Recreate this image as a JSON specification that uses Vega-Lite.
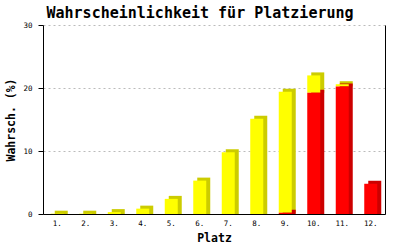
{
  "$schema": "https://vega.github.io/schema/vega-lite/v6.json",
  "autosize": {"type": "none"},
  "width": 342,
  "height": 189,
  "padding": {"left": 43, "top": 25, "right": 15, "bottom": 36},
  "background": "white",
  "title": {
    "text": "Wahrscheinlichkeit für Platzierung",
    "font": "DejaVu Sans Mono",
    "fontSize": 15,
    "fontWeight": "bold",
    "color": "black",
    "anchor": "middle",
    "frame": "group",
    "dx": -14,
    "offset": 0
  },
  "config": {
    "view": {"stroke": null},
    "axis": {
      "labelFont": "DejaVu Sans Mono",
      "labelFontSize": 7.5,
      "labelColor": "black",
      "titleFont": "DejaVu Sans Mono",
      "titleFontSize": 11.5,
      "titleFontWeight": "bold",
      "titleColor": "black",
      "domainColor": "black",
      "domainWidth": 1,
      "tickColor": "black"
    }
  },
  "data": {
    "values": [
      {"platz": "1.", "typ": "gelb", "wert": 0.05},
      {"platz": "2.", "typ": "gelb", "wert": 0.05},
      {"platz": "3.", "typ": "gelb", "wert": 0.3},
      {"platz": "4.", "typ": "gelb", "wert": 0.85},
      {"platz": "5.", "typ": "gelb", "wert": 2.4},
      {"platz": "6.", "typ": "gelb", "wert": 5.3},
      {"platz": "7.", "typ": "gelb", "wert": 9.8},
      {"platz": "8.", "typ": "gelb", "wert": 15.1},
      {"platz": "9.", "typ": "gelb", "wert": 19.2},
      {"platz": "9.", "typ": "rot", "wert": 0.2},
      {"platz": "10.", "typ": "gelb", "wert": 2.75},
      {"platz": "10.", "typ": "rot", "wert": 19.25},
      {"platz": "11.", "typ": "gelb", "wert": 0.35},
      {"platz": "11.", "typ": "rot", "wert": 20.25},
      {"platz": "12.", "typ": "rot", "wert": 4.8}
    ]
  },
  "transform": [
    {"stack": "wert", "groupby": ["platz"], "sort": [{"field": "typ", "order": "descending"}], "as": ["y0", "y1"]}
  ],
  "encoding": {
    "x": {
      "field": "platz",
      "type": "nominal",
      "scale": {"domain": ["1.", "2.", "3.", "4.", "5.", "6.", "7.", "8.", "9.", "10.", "11.", "12."], "paddingInner": 0, "paddingOuter": 0},
      "axis": {"title": "Platz", "labelAngle": 0, "ticks": false, "labelPadding": 5, "titlePadding": 6}
    }
  },
  "layer": [
    {
      "transform": [{"filter": "datum.typ == 'gelb'"}],
      "mark": {"type": "bar", "width": 13, "xOffset": 4, "yOffset": -3, "y2Offset": 0, "color": "#cccc00"},
      "encoding": {
        "y": {"field": "y1", "type": "quantitative", "scale": {"domain": [0, 30], "nice": false},
          "axis": {"title": "Wahrsch. (%)", "values": [0, 10, 20, 30], "tickSize": 5, "labelPadding": 6, "titlePadding": 6,
            "grid": true, "gridColor": "#bbbbbb", "gridDash": [2, 3]}},
        "y2": {"field": "y0"}
      }
    },
    {
      "transform": [{"filter": "datum.typ == 'rot'"}],
      "mark": {"type": "bar", "width": 13, "xOffset": 4, "yOffset": -3, "y2Offset": 0, "color": "#cc0000"},
      "encoding": {
        "y": {"field": "y1", "type": "quantitative", "axis": null},
        "y2": {"field": "y0"}
      }
    },
    {
      "mark": {"type": "bar", "width": 13},
      "encoding": {
        "y": {"field": "y1", "type": "quantitative",
          "axis": {"orient": "right", "title": null, "labels": false, "ticks": false, "grid": false, "values": [0, 30]}},
        "y2": {"field": "y0"},
        "color": {"field": "typ", "type": "nominal", "scale": {"domain": ["gelb", "rot"], "range": ["#ffff00", "#ff0000"]}, "legend": null}
      }
    }
  ],
  "resolve": {"axis": {"y": "independent"}}
}
